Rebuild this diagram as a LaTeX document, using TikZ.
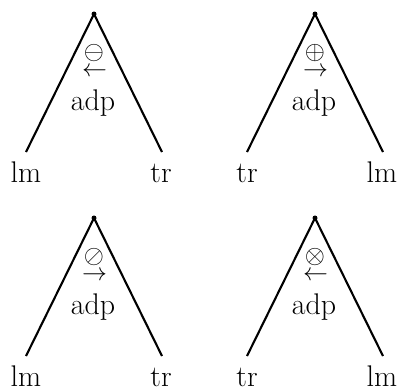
\documentclass[tikz,border=0pt]{standalone}
\usepackage{fontspec}
\usepackage{graphicx}
\newcommand{\bigsym}[2]{\scalebox{#1}{$#2$}}
\begin{document}
\begin{tikzpicture}[x=1bp,y=-1bp,
  leg/.style={line width=2.1bp},
  lbl/.style={font=\fontsize{30}{36}\selectfont, anchor=base, inner sep=0pt},
  sym/.style={inner sep=0pt},
  arr/.style={inner sep=0pt},
  apexdot/.style={circle, fill, inner sep=0pt, minimum size=5bp}]
\useasboundingbox (0,0) rectangle (401,388);
\foreach \x/\y/\s/\a/\l/\r/\n in {94/14/\ominus/\leftarrow/lm/tr/a,
                                 315/14/\oplus/\rightarrow/tr/lm/b,
                                 94/218/\oslash/\rightarrow/lm/tr/c,
                                 315/218/\otimes/\leftarrow/tr/lm/d}{
  \node[apexdot] (apex\n) at (\x,\y) {};
  \coordinate (lf\n) at (\x-68,\y+138);
  \coordinate (rf\n) at (\x+68,\y+138);
  \draw[leg] (lf\n) -- (apex\n.center) -- (rf\n);
  \node[sym] (sym\n) at (\x,\y+39) {\bigsym{2.6}{\s}};
  \node[arr] (arr\n) at (\x+0.5,\y+58) {\bigsym{2.5}{\a}};
  \node[lbl] (adp\n) at (\x-1,\y+96) {adp};
  \node[lbl] (ll\n) at (\x-68,\y+168) {\l};
  \node[lbl] (rl\n) at (\x+67,\y+168) {\r};
}
\end{tikzpicture}
\end{document}
